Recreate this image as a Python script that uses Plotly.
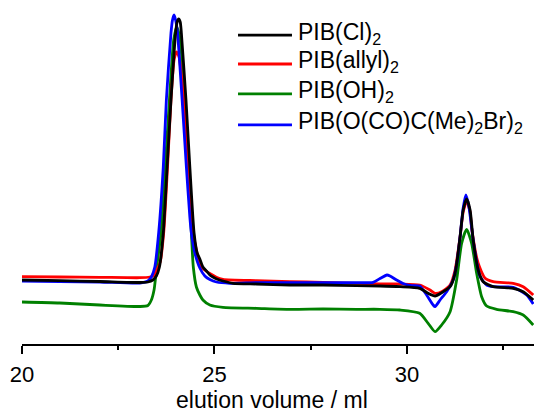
import plotly.graph_objects as go

# GPC traces (elution volume in ml, detector signal in mV)
vol_cl = [20.00, 20.98, 22.02, 23.06, 23.27, 23.40, 23.49, 23.57, 23.67, 23.77, 23.87, 23.99,
          24.03, 24.07, 24.11, 24.14, 24.26, 24.36, 24.47, 24.55, 24.62, 24.70, 24.79, 24.88,
          24.96, 25.06, 25.22, 25.48, 26.09, 26.96, 27.82, 28.69, 29.30, 29.82, 30.33, 30.55,
          30.73, 30.90, 31.12, 31.25, 31.38, 31.46, 31.55, 31.64, 31.72, 31.85, 31.98, 32.24,
          32.76, 33.02, 33.28]
sig_cl = [6.40, 6.33, 6.25, 6.15, 6.20, 6.40, 6.80, 7.70, 11.10, 17.70, 24.40, 31.10,
          32.20, 32.50, 32.20, 31.10, 24.40, 17.70, 11.10, 9.10, 8.50, 7.70, 7.30, 6.90,
          6.70, 6.50, 6.30, 6.07, 6.00, 5.90, 5.90, 5.83, 5.80, 5.73, 5.57, 5.07,
          4.80, 5.13, 5.73, 7.07, 10.73, 13.40, 14.50, 13.40, 10.40, 7.40, 6.23, 5.73,
          5.57, 5.23, 4.40]

vol_allyl = [20.00, 20.98, 22.02, 23.06, 23.32, 23.40, 23.50, 23.59, 23.68, 23.78, 23.87, 23.95,
             24.01, 24.08, 24.14, 24.20, 24.33, 24.45, 24.54, 24.66, 24.78, 24.88, 25.05, 25.22,
             26.09, 26.96, 27.82, 28.69, 29.30, 29.82, 30.33, 30.60, 30.73, 30.90, 31.12, 31.25,
             31.38, 31.46, 31.55, 31.64, 31.68, 31.85, 32.03, 32.24, 32.76, 33.02, 33.28]
sig_allyl = [6.73, 6.70, 6.67, 6.63, 6.70, 6.80, 7.40, 8.20, 11.10, 17.70, 24.40, 28.40,
             29.20, 28.70, 26.90, 24.40, 17.70, 11.10, 9.20, 7.70, 7.30, 7.05, 6.67, 6.47,
             6.33, 6.23, 6.17, 6.07, 6.00, 6.00, 5.90, 5.40, 5.07, 5.23, 5.90, 7.40,
             10.73, 13.20, 14.30, 13.20, 11.60, 8.07, 6.57, 6.23, 6.07, 5.73, 4.90]

vol_oh = [20.00, 20.98, 22.02, 23.06, 23.27, 23.36, 23.43, 23.50, 23.61, 23.72, 23.83, 23.94,
          24.02, 24.11, 24.22, 24.32, 24.40, 24.45, 24.53, 24.62, 24.70, 24.88, 25.22, 26.09,
          26.96, 27.82, 28.69, 29.30, 29.82, 30.33, 30.55, 30.73, 30.90, 31.12, 31.29, 31.42,
          31.55, 31.68, 31.81, 31.94, 32.07, 32.33, 32.76, 33.02, 33.28]
sig_oh = [4.20, 4.10, 3.90, 3.75, 3.85, 4.40, 5.40, 7.70, 11.10, 17.70, 24.40, 30.40,
          31.70, 30.40, 24.40, 17.70, 11.10, 7.70, 5.70, 4.90, 4.40, 3.90, 3.67, 3.57,
          3.47, 3.50, 3.47, 3.47, 3.40, 3.07, 2.07, 1.23, 1.90, 3.23, 6.40, 10.07,
          11.47, 10.07, 7.07, 4.73, 3.80, 3.47, 3.23, 2.90, 1.90]

vol_br = [20.00, 20.98, 22.02, 23.06, 23.27, 23.36, 23.45, 23.55, 23.67, 23.75, 23.87, 23.91,
          23.95, 23.99, 24.04, 24.16, 24.27, 24.36, 24.40, 24.49, 24.62, 24.75, 24.88, 25.05,
          25.40, 26.09, 26.96, 27.82, 28.69, 29.12, 29.30, 29.48, 29.56, 29.73, 29.90, 30.08,
          30.33, 30.51, 30.68, 30.73, 30.86, 31.03, 31.20, 31.30, 31.38, 31.46, 31.53, 31.61,
          31.72, 31.81, 31.90, 32.07, 32.24, 32.76, 33.11, 33.28]
sig_br = [6.30, 6.25, 6.20, 6.10, 6.30, 6.70, 7.70, 11.10, 17.70, 24.40, 31.10, 32.40,
          32.90, 32.40, 31.10, 24.40, 17.70, 12.70, 11.10, 9.10, 7.60, 6.80, 6.45, 6.20,
          6.07, 6.13, 6.13, 6.13, 6.13, 6.17, 6.55, 6.90, 6.80, 6.40, 6.05, 5.85,
          5.80, 4.90, 3.90, 3.73, 4.40, 5.23, 6.40, 8.20, 10.73, 13.60, 14.90, 13.70,
          10.40, 8.20, 6.73, 5.90, 5.73, 5.67, 4.90, 4.00]

names = ["PIB(Cl)<sub>2</sub>", "PIB(allyl)<sub>2</sub>", "PIB(OH)<sub>2</sub>",
         "PIB(O(CO)C(Me)<sub>2</sub>Br)<sub>2</sub>"]
colors = ["#000000", "#ff0000", "#008000", "#0000ff"]
series = [(vol_cl, sig_cl), (vol_allyl, sig_allyl), (vol_oh, sig_oh), (vol_br, sig_br)]
x_title = "elution volume / ml"

FONT = "Arial, Liberation Sans, sans-serif"

fig = go.Figure()
# draw order: green underneath, black on top
for idx in [2, 1, 3, 0]:
    x, y = series[idx]
    fig.add_trace(go.Scatter(
        x=x, y=y, mode="lines", name=names[idx],
        line=dict(color=colors[idx], width=2.8, shape="spline", smoothing=0.6),
        showlegend=False, hoverinfo="skip"))

# hand-drawn legend (long line samples)
row_y = [0.898, 0.814, 0.727, 0.637]
for name, color, yy in zip(names, colors, row_y):
    fig.add_shape(type="line", xref="paper", yref="paper",
                  x0=0.4219, x1=0.5273, y0=yy, y1=yy,
                  line=dict(color=color, width=2.8))
    fig.add_annotation(xref="paper", yref="paper", x=0.536, y=yy, text=name,
                       showarrow=False, xanchor="left", yanchor="middle", yshift=2,
                       font=dict(family=FONT, size=23, color="black"))

# x-axis title placed below the tick labels
fig.add_annotation(xref="paper", yref="paper", x=0.489, y=-0.163, text=x_title,
                   showarrow=False, xanchor="center", yanchor="middle",
                   font=dict(family=FONT, size=23, color="black"))

fig.update_layout(
    width=534, height=414,
    margin=dict(l=22, r=0, t=0, b=70),
    paper_bgcolor="white", plot_bgcolor="white",
    font=dict(family=FONT, color="black"),
    xaxis=dict(range=[20, 33.3], tick0=20, dtick=5, showgrid=False, zeroline=False,
               automargin=False,
               showline=True, linecolor="black", linewidth=1.5,
               ticks="outside", ticklen=8, tickwidth=1.5, tickcolor="black",
               ticklabelstandoff=2,
               tickfont=dict(family=FONT, size=22, color="black"),
               minor=dict(dtick=2.5, ticks="outside", ticklen=4, tickwidth=1.5,
                          tickcolor="black", showgrid=False)),
    yaxis=dict(range=[0, 34.4], visible=False, automargin=False),
)

fig.write_html("out.html")
